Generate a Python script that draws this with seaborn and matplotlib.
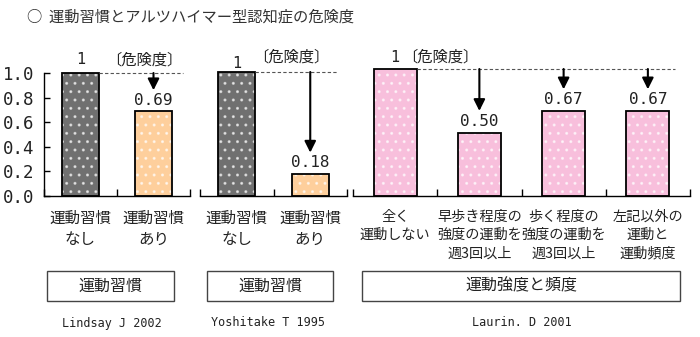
import matplotlib
matplotlib.use("Agg")
import matplotlib.pyplot as plt
import matplotlib.patches as mpatches
import seaborn as sns
import pandas as pd

sns.set_theme(style="white")
plt.rcParams['font.family'] = ['Noto Sans CJK JP', 'DejaVu Sans']

# ---------------- data ----------------
title = "○  運動習慣とアルツハイマー型認知症の危険度"

p1_labels = ["運動習慣\nなし", "運動習慣\nあり"]
p1_values = [1.0, 0.69]
p1_text = ["1", "0.69"]

p2_labels = ["運動習慣\nなし", "運動習慣\nあり"]
p2_values = [1.0, 0.18]
p2_text = ["1", "0.18"]

p3_labels = ["全く\n運動しない", "早歩き程度の\n強度の運動を\n週3回以上",
             "歩く程度の\n強度の運動を\n週3回以上", "左記以外の\n運動と\n運動頻度"]
p3_values = [1.0, 0.50, 0.67, 0.67]
p3_text = ["1", "0.50", "0.67", "0.67"]

group_labels = ["運動習慣", "運動習慣", "運動強度と頻度"]
citations = ["Lindsay J 2002", "Yoshitake T 1995", "Laurin. D 2001"]
y_ticks = [0.0, 0.2, 0.4, 0.6, 0.8, 1.0]

# ---------------- style ----------------
GREY = "#707070"
ORANGE = "#fecf9c"
PINK = "#f8bfdc"
MONO = "DejaVu Sans Mono"

W, H = 700, 337
fig = plt.figure(figsize=(W / 100, H / 100), dpi=100)

bottom_px, top_px = 196, 60
def ax_rect(x0, x1):
    return [x0 / W, (H - bottom_px) / H, (x1 - x0) / W, (bottom_px - top_px) / H]

ax1 = fig.add_axes(ax_rect(44, 190))
ax2 = fig.add_axes(ax_rect(200, 347))
ax3 = fig.add_axes(ax_rect(353, 690))

panels = [
    (ax1, p1_labels, p1_values, p1_text, [GREY, ORANGE], 136 / 123, 0.87, 1.106, 1.106, 1.40, 11.2),
    (ax2, p2_labels, p2_values, p2_text, [GREY, ORANGE], 136 / 124, 0.74, 1.07, 1.12, 1.36, 11.2),
    (ax3, p3_labels, p3_values, p3_text, [PINK] * 4, 136 / 127, 0.54, 1.094, 1.094, 3.32, 10.2),
]

for i, (ax, labels, values, texts, colors, ytop, kx, y1, yk, dash_end, fs) in enumerate(panels):
    df = pd.DataFrame({"cat": labels, "val": values})
    n = len(labels)
    width = 0.5 if n == 2 else 0.51
    sns.barplot(data=df, x="cat", y="val", hue="cat", palette=colors, legend=False,
                width=width, edgecolor="none", linewidth=0, ax=ax, saturation=1)
    # dotted texture, then black outline on top
    for p in list(ax.patches):
        xy, w, h = p.get_xy(), p.get_width(), p.get_height()
        ax.add_patch(mpatches.Rectangle(xy, w, h, fill=False, hatch="..",
                                        edgecolor=(1, 1, 1, 0.6), lw=0, zorder=2))
        ax.add_patch(mpatches.Rectangle(xy, w, h, fill=False, edgecolor="black",
                                        lw=1.3, zorder=2.5))
    ax.set_xlim(-0.5, n - 0.5)
    ax.set_ylim(0, ytop)
    ax.set_xlabel("")
    ax.set_ylabel("")
    for s in ["top", "right"]:
        ax.spines[s].set_visible(False)
    ax.spines["bottom"].set_color("black")
    ax.spines["bottom"].set_linewidth(1.0)
    ax.spines["bottom"].set_zorder(3)
    # x ticks: labels at centers, marks at boundaries
    ax.set_xticks(range(n))
    ax.set_xticklabels(labels, fontsize=fs, linespacing=1.33 if n == 2 else 1.4,
                       color="#222")
    ax.set_xticks([k - 0.5 for k in range(n + 1)], minor=True)
    ax.tick_params(axis="x", which="major", length=0, pad=10)
    ax.tick_params(axis="x", which="minor", direction="in", length=5, width=1.0,
                   color="black", bottom=True)
    if i == 0:
        ax.spines["left"].set_bounds(0, 1)
        ax.spines["left"].set_color("black")
        ax.spines["left"].set_linewidth(1.0)
        ax.set_yticks(y_ticks)
        ax.set_yticklabels([f"{v:.1f}" for v in y_ticks], family=MONO, fontsize=12.5,
                           color="#222")
        ax.tick_params(axis="y", direction="in", length=4, width=1.0, color="black",
                       left=True, pad=7)
    else:
        ax.spines["left"].set_visible(False)
        ax.set_yticks([])

    # dashed reference line at 1
    ax.plot([width / 2, dash_end], [1, 1], ls=(0, (3, 2)), color="#555", lw=0.8,
            clip_on=False, zorder=3)
    # top labels
    ax.text(0, y1, texts[0], ha="center", va="center", family=MONO, fontsize=11,
            color="#222", clip_on=False)
    ax.text(kx, yk, "〔危険度〕", ha="center", va="center", fontsize=11,
            color="#222", clip_on=False)
    # arrows & value labels
    for k in range(1, n):
        v = values[k]
        ax.annotate("", xy=(k, v + 0.17), xytext=(k, 1.0),
                    arrowprops=dict(arrowstyle="-|>", color="black", lw=1.5,
                                    mutation_scale=17, shrinkA=0, shrinkB=0),
                    zorder=4, annotation_clip=False)
        ax.text(k, v + 0.09, texts[k], ha="center", va="center", family=MONO,
                fontsize=11.5, color="#222")

# group boxes and citations
boxes = [(47, 174), (207, 333), (362, 680)]
cit_x = [112, 268, 522]
for (x0, x1), lab, cit, cx in zip(boxes, group_labels, citations, cit_x):
    rect = mpatches.Rectangle((x0 / W, (H - 301) / H), (x1 - x0) / W, 30 / H,
                              transform=fig.transFigure, fill=False,
                              edgecolor="#444", lw=1.0)
    fig.patches.append(rect)
    fig.text((x0 + x1) / 2 / W, (H - 286) / H, lab, ha="center", va="center",
             fontsize=11.5, color="#222")
    fig.text(cx / W, (H - 323) / H, cit, ha="center", va="center", family=MONO,
             fontsize=8.5, color="#222")

fig.text(27 / W, (H - 17) / H, title, ha="left", va="center", fontsize=11, color="#333")

fig.savefig("out.png", dpi=100)
